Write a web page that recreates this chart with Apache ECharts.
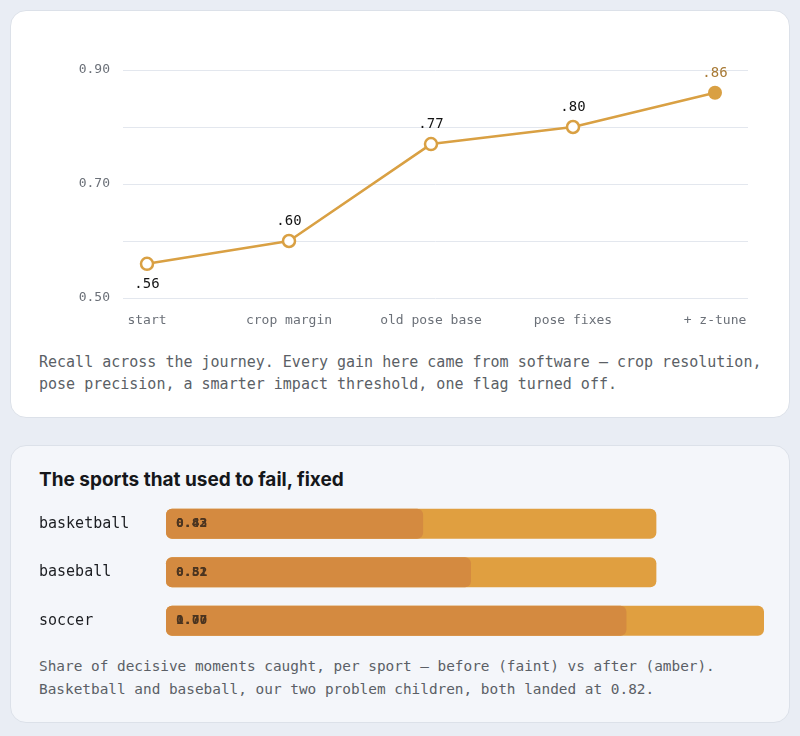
<!DOCTYPE html>
<html lang="en">
<head>
<meta charset="UTF-8">
<script src="https://cdn.jsdelivr.net/npm/echarts@6/dist/echarts.min.js"></script>
<title>Recall journey</title>
<style>
  body {
    margin: 0;
    width: 800px;
    height: 736px;
    background: #e9edf4;
    position: relative;
    overflow: hidden;
    font-family: "DejaVu Sans Mono", monospace;
  }
  .card {
    position: absolute;
    left: 10px;
    width: 780px;
    box-sizing: border-box;
    border: 1px solid #dce1e9;
    border-radius: 16px;
  }
  #card1 { top: 10px; height: 408px; background: #ffffff; }
  #card2 { top: 445px; height: 278px; background: #f4f6fa; }
  .chart { position: absolute; left: 0; width: 800px; }
  #line { top: 0; height: 340px; }
  #bars { top: 495px; height: 150px; }
  .caption {
    position: absolute;
    left: 39px;
    color: #5b5f66;
    white-space: nowrap;
  }
  #cap1 { top: 351px; font-size: 15px; line-height: 22px; }
  #cap2 { top: 655px; font-size: 14.4px; line-height: 23px; }
  #title {
    position: absolute;
    left: 39px;
    top: 468px;
    font-family: Inter, "Noto Sans", sans-serif;
    font-weight: 700;
    font-size: 19px;
    color: #15171a;
  }
</style>
</head>
<body>
<div class="card" id="card1"></div>
<div class="card" id="card2"></div>
<div class="chart" id="line"></div>
<div class="caption" id="cap1">Recall across the journey. Every gain here came from software — crop resolution,<br>pose precision, a smarter impact threshold, one flag turned off.</div>
<div id="title">The sports that used to fail, fixed</div>
<div class="chart" id="bars"></div>
<div class="caption" id="cap2">Share of decisive moments caught, per sport — before (faint) vs after (amber).<br>Basketball and baseball, our two problem children, both landed at 0.82.</div>
<script>
  // recall per step
  const steps = ['start', 'crop margin', 'old pose base', 'pose fixes', '+ z-tune'];
  const recall = [0.56, 0.60, 0.77, 0.80, 0.86];
  const yTicks = [0.50, 0.70, 0.90];

  // share of decisive moments per sport
  const sports = ['basketball', 'baseball', 'soccer'];
  const before = [0.43, 0.51, 0.77];
  const after = [0.82, 0.82, 1.00];

  const mono = 'DejaVu Sans Mono';
  const amber = '#d9a043';

  const lineChart = echarts.init(document.getElementById('line'));
  lineChart.setOption({
    animation: false,
    grid: { left: 123, right: 52, top: 70, bottom: 42 },
    xAxis: {
      type: 'value',
      min: -24 / 142,
      max: 4 + 33 / 142,
      axisLine: { show: false },
      axisTick: { show: false },
      splitLine: { show: false },
      axisLabel: {
        customValues: steps.map((s, i) => i),
        formatter: v => steps[Math.round(v)],
        fontFamily: mono,
        fontSize: 13,
        color: '#6b7078',
        margin: 16
      }
    },
    yAxis: {
      type: 'value',
      min: 0.5,
      max: 0.9,
      interval: 0.1,
      axisLine: { show: false },
      axisTick: { show: false },
      splitLine: { lineStyle: { color: '#e3e7ee', width: 1 } },
      axisLabel: {
        formatter: v => yTicks.some(t => Math.abs(t - v) < 1e-6) ? v.toFixed(2) : '',
        fontFamily: mono,
        fontSize: 13,
        color: '#6b7078',
        margin: 13
      }
    },
    series: [{
      type: 'line',
      data: recall.map((v, i) => {
        const last = i === recall.length - 1;
        return {
          value: [i, v],
          symbolSize: last ? 14 : 12,
          itemStyle: last
            ? { color: amber, borderColor: amber, borderWidth: 0 }
            : { color: '#ffffff', borderColor: amber, borderWidth: 2.5 },
          label: {
            position: i === 0 ? 'bottom' : 'top',
            color: last ? '#a87a35' : '#141414',
            distance: i === 0 ? 6 : 5
          }
        };
      }),
      symbol: 'circle',
      showAllSymbol: true,
      lineStyle: { color: amber, width: 2.5 },
      label: {
        show: true,
        fontFamily: mono,
        fontSize: 14,
        fontWeight: 500,
        formatter: p => '.' + Math.round(p.value[1] * 100)
      }
    }]
  });

  const barLabel = {
    show: true,
    position: 'insideLeft',
    distance: 10,
    fontFamily: mono,
    fontSize: 13,
    fontWeight: 'bold',
    color: '#4a3420',
    formatter: p => p.value.toFixed(2)
  };

  const barChart = echarts.init(document.getElementById('bars'));
  barChart.setOption({
    animation: false,
    grid: { left: 166, right: 36, top: 4.5, height: 147 },
    xAxis: {
      type: 'value',
      min: 0,
      max: 1,
      show: false
    },
    yAxis: {
      type: 'category',
      data: sports,
      inverse: true,
      axisLine: { show: false },
      axisTick: { show: false },
      axisLabel: {
        align: 'left',
        margin: 127,
        padding: [4, 0, 0, 0],
        fontFamily: mono,
        fontSize: 15,
        color: '#1c1e22'
      }
    },
    series: [
      {
        name: 'after',
        type: 'bar',
        data: after,
        barWidth: 30,
        itemStyle: { color: '#e09f40', borderRadius: 6 },
        label: barLabel
      },
      {
        name: 'before',
        type: 'bar',
        data: before,
        barWidth: 30,
        barGap: '-100%',
        itemStyle: { color: '#d48a40', borderRadius: 6 },
        label: barLabel
      }
    ]
  });
</script>
</body>
</html>
